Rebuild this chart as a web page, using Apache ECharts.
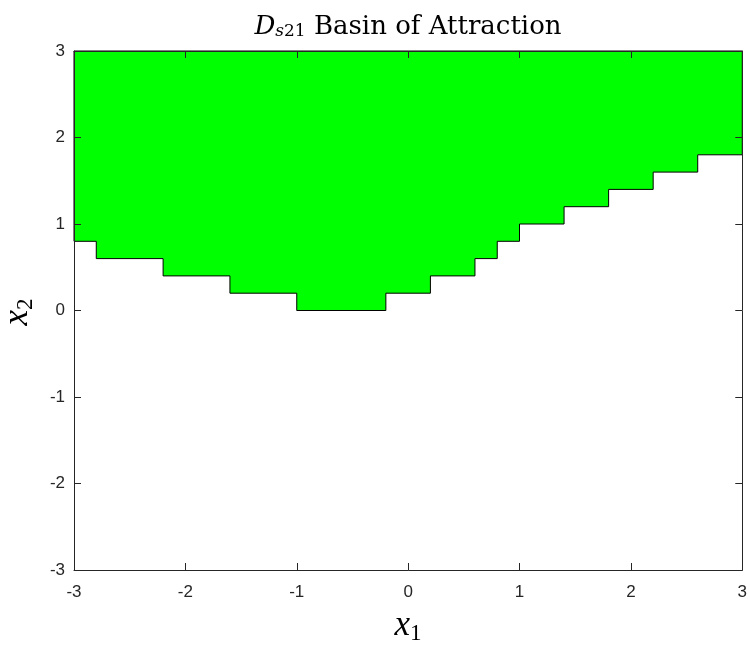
<!DOCTYPE html>
<html>
<head>
<meta charset="utf-8">
<script src="https://cdn.jsdelivr.net/npm/echarts@6/dist/echarts.min.js"></script>
<style>
  html, body { margin: 0; padding: 0; background: #fff; }
  #chart { width: 750px; height: 647px; }
</style>
</head>
<body>
<div id="chart"></div>
<script>
// Staircase boundary of the basin: edges at stepX, level stepY between consecutive edges
const stepX = [-3, -2.8, -2.2, -1.6, -1, -0.2, 0.2, 0.6, 0.8, 1, 1.4, 1.8, 2.2, 2.6, 3];
const stepY = [0.8, 0.6, 0.4, 0.2, 0, 0.2, 0.4, 0.6, 0.8, 1, 1.2, 1.4, 1.6, 1.8];
const topY = 3;
const axisMin = -3, axisMax = 3, axisStep = 1;

// Polygon vertices: top-left corner, staircase, top-right corner
const poly = [[stepX[0], topY]];
for (let i = 0; i < stepY.length; i++) {
  poly.push([stepX[i], stepY[i]]);
  poly.push([stepX[i + 1], stepY[i]]);
}
poly.push([stepX[stepX.length - 1], topY]);

const axisColor = '#262626';
const serif = 'DejaVu Serif, serif';
const tickFont = { color: axisColor, fontSize: 17, fontFamily: 'Liberation Sans, Arial, sans-serif' };

function axisCfg(pos, showLabels) {
  return {
    type: 'value', min: axisMin, max: axisMax, interval: axisStep, position: pos, z: 5,
    axisLine: { show: true, onZero: false, lineStyle: { color: axisColor, width: 1 } },
    axisTick: { show: true, inside: true, length: 7, lineStyle: { color: axisColor } },
    axisLabel: showLabels ? Object.assign({ margin: (pos === 'bottom' ? 14 : 9) }, tickFont) : { show: false },
    splitLine: { show: false }
  };
}

const chart = echarts.init(document.getElementById('chart'), null, { renderer: 'canvas' });
chart.setOption({
  backgroundColor: '#fff',
  animation: false,
  grid: { left: 74, right: 7, top: 51, bottom: 77, containLabel: false },
  xAxis: [axisCfg('bottom', true), axisCfg('top', false)],
  yAxis: [axisCfg('left', true), axisCfg('right', false)],
  graphic: [
    {
      type: 'text', x: 408, y: 40,
      style: {
        text: '{d|D}{s|s}{n|21}{t| Basin of Attraction}',
        align: 'center', verticalAlign: 'bottom',
        rich: {
          d: { fontFamily: serif, fontStyle: 'italic', fontSize: 26, fill: '#000' },
          s: { fontFamily: serif, fontStyle: 'italic', fontSize: 17, fill: '#000', padding: [9, 0, 0, 0] },
          n: { fontFamily: serif, fontSize: 17, fill: '#000', padding: [9, 0, 0, 0] },
          t: { fontFamily: serif, fontSize: 26, fill: '#000' }
        }
      }
    },
    {
      type: 'text', x: 408, y: 645,
      style: {
        text: '{v|x}{i|1}', align: 'center', verticalAlign: 'bottom',
        rich: {
          v: { fontFamily: 'Liberation Serif, serif', fontStyle: 'italic', fontSize: 35, fill: '#000' },
          i: { fontFamily: 'Liberation Serif, serif', fontSize: 23, fill: '#000', padding: [16, 0, 0, 0] }
        }
      }
    },
    {
      type: 'text', x: 37, y: 312, rotation: Math.PI / 2,
      style: {
        text: '{v|x}{i|2}', align: 'center', verticalAlign: 'bottom',
        rich: {
          v: { fontFamily: 'Liberation Serif, serif', fontStyle: 'italic', fontSize: 35, fill: '#000' },
          i: { fontFamily: 'Liberation Serif, serif', fontSize: 23, fill: '#000', padding: [16, 0, 0, 0] }
        }
      }
    }
  ],
  series: [
    {
      type: 'custom',
      xAxisIndex: 0, yAxisIndex: 0, z: 1,
      data: [[0, 0]],
      renderItem: function (params, api) {
        const pts = poly.map(p => api.coord(p));
        return {
          type: 'polygon',
          shape: { points: pts },
          style: { fill: '#00ff00', stroke: '#000', lineWidth: 1 }
        };
      },
      silent: true
    }
  ]
});
</script>
</body>
</html>
